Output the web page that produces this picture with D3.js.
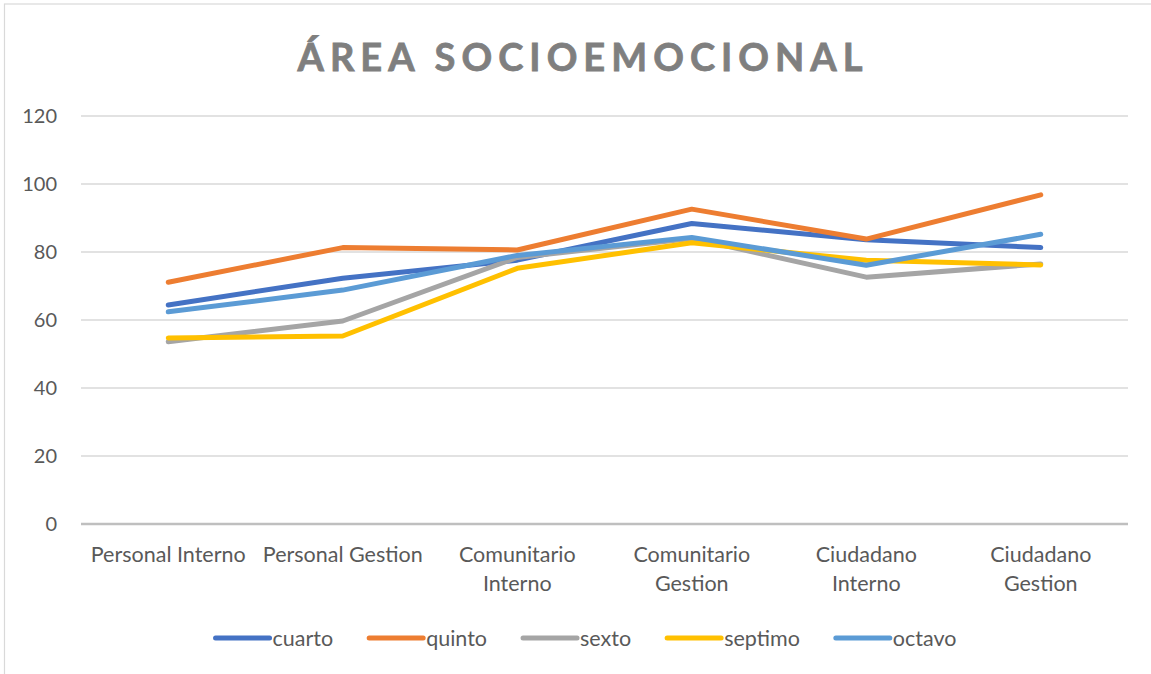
<!DOCTYPE html>
<html>
<head>
<meta charset="utf-8">
<script src="https://cdn.jsdelivr.net/npm/d3@7"></script>
<style>
  body { margin: 0; background: #fff; }
  svg { display: block; }
</style>
</head>
<body>
<div id="chart"></div>
<script>
// data
var categories = [
  ['Personal Interno'],
  ['Personal Gestion'],
  ['Comunitario', 'Interno'],
  ['Comunitario', 'Gestion'],
  ['Ciudadano', 'Interno'],
  ['Ciudadano', 'Gestion']
];
var seriesNames = ['cuarto', 'quinto', 'sexto', 'septimo', 'octavo'];
var cuarto  = [64.4, 72.3, 77.6, 88.4, 83.6, 81.3];
var quinto  = [71.1, 81.3, 80.6, 92.6, 83.8, 96.8];
var sexto   = [53.6, 59.7, 78.4, 84.0, 72.6, 76.5];
var septimo = [54.7, 55.3, 75.2, 82.7, 77.6, 76.2];
var octavo  = [62.4, 68.8, 79.0, 84.3, 76.1, 85.2];
var yTicks = [0, 20, 40, 60, 80, 100, 120];

var seriesValues = [cuarto, quinto, sexto, septimo, octavo];
var colors = ['#4472C4', '#ED7D31', '#A5A5A5', '#FFC000', '#5B9BD5'];

var width = 1151, height = 674;
var font = 'Lato, "Open Sans", sans-serif';

var svg = d3.select('#chart').append('svg')
    .attr('width', width)
    .attr('height', height);

// chart border (only top and left show in the picture)
svg.append('rect')
    .attr('x', 4.5).attr('y', 4)
    .attr('width', width + 10).attr('height', height + 10)
    .attr('fill', '#fff')
    .attr('stroke', '#d9d9d9')
    .attr('stroke-width', 1.2);

// title
svg.append('text')
    .attr('x', 580)
    .attr('y', 71)
    .attr('text-anchor', 'middle')
    .attr('font-family', font)
    .attr('font-weight', 'bold')
    .attr('font-size', 38)
    .attr('fill', '#7f7f7f')
    .attr('stroke', '#7f7f7f')
    .attr('stroke-width', 0.8)
    .attr('textLength', 565)
    .attr('lengthAdjust', 'spacing')
    .text('ÁREA SOCIOEMOCIONAL');

var xScale = d3.scaleBand()
    .domain(d3.range(categories.length))
    .range([81, 1128]);

var yScale = d3.scaleLinear()
    .domain([0, 120])
    .range([524, 116]);

// gridlines
svg.append('g').selectAll('line')
    .data(yTicks.filter(function(d){ return d > 0; }))
    .enter().append('line')
    .attr('x1', 81).attr('x2', 1128)
    .attr('y1', function(d){ return yScale(d); })
    .attr('y2', function(d){ return yScale(d); })
    .attr('stroke', '#d9d9d9')
    .attr('stroke-width', 1.4);

// y axis labels
var yAxis = d3.axisLeft(yScale).tickValues(yTicks).tickSize(0).tickPadding(24);
var yg = svg.append('g').attr('transform', 'translate(81,0)').call(yAxis);
yg.select('.domain').remove();
yg.selectAll('text')
    .attr('font-family', font)
    .attr('font-size', 20)
    .attr('fill', '#595959');

// x axis line
svg.append('line')
    .attr('x1', 81).attr('x2', 1128)
    .attr('y1', yScale(0)).attr('y2', yScale(0))
    .attr('stroke', '#bfbfbf')
    .attr('stroke-width', 2.5);

// category labels (wrapped like the original)
var xl = svg.append('g').selectAll('text')
    .data(categories)
    .enter().append('text')
    .attr('text-anchor', 'middle')
    .attr('font-family', font)
    .attr('font-size', 21.5)
    .attr('fill', '#595959')
    .attr('x', function(d, i){ return xScale(i) + xScale.bandwidth() / 2; })
    .attr('y', 562);
xl.selectAll('tspan')
    .data(function(d){ return d; })
    .enter().append('tspan')
    .attr('x', function(){ return d3.select(this.parentNode).attr('x'); })
    .attr('dy', function(d, i){ return i === 0 ? 0 : 29; })
    .text(function(d){ return d; });

// lines
var line = d3.line()
    .x(function(d, i){ return xScale(i) + xScale.bandwidth() / 2; })
    .y(function(d){ return yScale(d); });

svg.append('g').selectAll('path')
    .data(seriesValues)
    .enter().append('path')
    .attr('d', line)
    .attr('fill', 'none')
    .attr('stroke', function(d, i){ return colors[i]; })
    .attr('stroke-width', 5)
    .attr('stroke-linecap', 'round')
    .attr('stroke-linejoin', 'round');

// legend
var legend = svg.append('g');
var lx = 0;
seriesNames.forEach(function(name, i){
    var item = legend.append('g').attr('transform', 'translate(' + lx + ',0)');
    item.append('line')
        .attr('x1', 2).attr('x2', 56)
        .attr('y1', 0).attr('y2', 0)
        .attr('stroke', colors[i])
        .attr('stroke-width', 5)
        .attr('stroke-linecap', 'round');
    var t = item.append('text')
        .attr('x', 59)
        .attr('y', 7.5)
        .attr('font-family', font)
        .attr('font-size', 21.5)
        .attr('fill', '#595959')
        .text(name);
    lx += 59 + t.node().getComputedTextLength() + 34;
});
lx -= 34;
legend.attr('transform', 'translate(' + (585 - lx / 2) + ',638)');
</script>
</body>
</html>
